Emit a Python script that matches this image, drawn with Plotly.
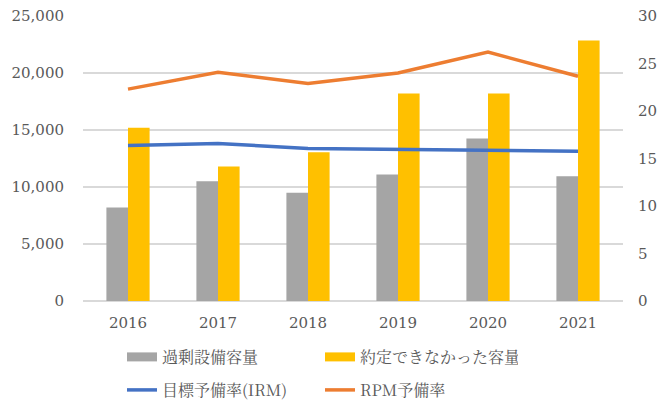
import plotly.graph_objects as go

years = ["2016", "2017", "2018", "2019", "2020", "2021"]
excess_capacity = [8200, 10500, 9500, 11100, 14250, 10950]
uncleared_capacity = [15200, 11800, 13050, 18200, 18200, 22850]
irm = [16.37, 16.58, 16.05, 15.98, 15.88, 15.77]
rpm = [22.3, 24.08, 22.89, 24.0, 26.2, 23.66]

names = ["過剰設備容量", "約定できなかった容量", "目標予備率(IRM)", "RPM予備率"]
colors = ["#A5A5A5", "#FFC000", "#4472C4", "#ED7D31"]

font_family = "DejaVu Serif, Liberation Serif, serif"
legend_font = "Noto Serif CJK JP, Noto Sans CJK JP, DejaVu Serif, serif"
text_color = "#595959"

fig = go.Figure()
fig.add_trace(go.Bar(x=years, y=excess_capacity, name=names[0],
                     marker=dict(color=colors[0], line=dict(width=0)),
                     showlegend=False))
fig.add_trace(go.Bar(x=years, y=uncleared_capacity, name=names[1],
                     marker=dict(color=colors[1], line=dict(width=0)),
                     showlegend=False))
fig.add_trace(go.Scatter(x=years, y=irm, name=names[2], mode="lines",
                         line=dict(color=colors[2], width=3.5),
                         yaxis="y2", legend="legend2"))
fig.add_trace(go.Scatter(x=years, y=rpm, name=names[3], mode="lines",
                         line=dict(color=colors[3], width=3.5),
                         yaxis="y2", legend="legend2"))
# legend proxies for bars (wide rectangle swatches)
for i in range(2):
    fig.add_trace(go.Scatter(x=[None], y=[None], name=names[i], mode="lines",
                             line=dict(color=colors[i], width=9),
                             legend="legend", hoverinfo="skip"))

legend_common = dict(orientation="h", xref="container", yref="container",
                     xanchor="left", yanchor="middle",
                     entrywidth=153, entrywidthmode="pixels",
                     font=dict(family=legend_font, size=16, color=text_color),
                     bgcolor="rgba(0,0,0,0)", borderwidth=0, itemwidth=30,
                     tracegroupgap=0)

fig.update_layout(
    width=670, height=413,
    margin=dict(l=83, r=47, t=16, b=112, autoexpand=False),
    paper_bgcolor="white", plot_bgcolor="white",
    barmode="group", bargap=0.52, bargroupgap=0,
    font=dict(family=font_family, size=15, color=text_color),
    xaxis=dict(showgrid=False, showline=False, ticks="", automargin=False,
               ticklabelstandoff=11,
               tickfont=dict(size=15, color=text_color)),
    yaxis=dict(range=[0, 25000], dtick=5000, tickformat=",d", automargin=False,
               showgrid=True, gridcolor="#D9D9D9", gridwidth=1.5,
               zeroline=True, zerolinecolor="#D9D9D9", zerolinewidth=1.5,
               showline=False, ticks="", ticklabelstandoff=18,
               tickfont=dict(size=15, color=text_color)),
    yaxis2=dict(range=[0, 30], dtick=5, overlaying="y", side="right",
                automargin=False,
                showgrid=False, zeroline=False, showline=False, ticks="",
                ticklabelstandoff=14,
                tickfont=dict(size=15, color=text_color)),
    legend=dict(x=122 / 670, y=1 - 357 / 413, **legend_common),
    legend2=dict(x=122 / 670, y=1 - 390 / 413, **legend_common),
    showlegend=True,
)

fig.write_html("out.html", config={"displayModeBar": False},
               post_script="document.body.style.margin='0';")
